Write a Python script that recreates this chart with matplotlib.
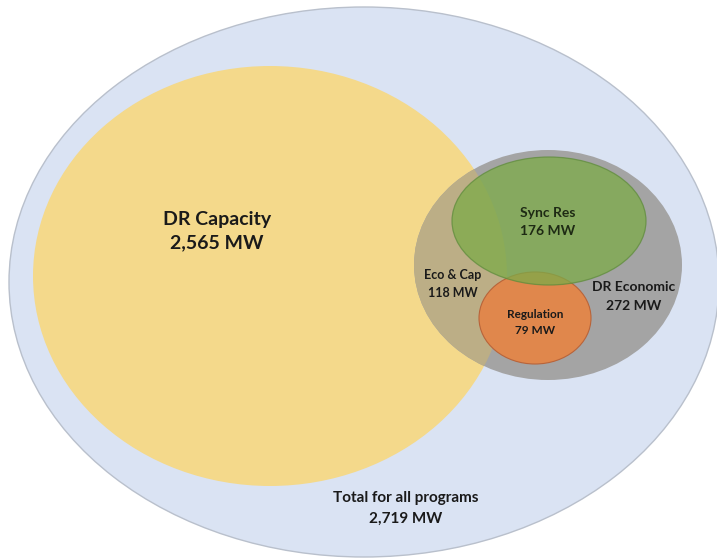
import matplotlib.pyplot as plt
from matplotlib.patches import Ellipse

# Program names and enrolled capacity (MW)
programs = ["Total for all programs", "DR Capacity", "DR Economic", "Sync Res", "Regulation", "Eco & Cap"]
mw_values = [2719, 2565, 272, 176, 79, 118]

# Ellipse layout in pixel space: (cx, cy, width, height)
shapes = {
    "Total for all programs": (364, 282, 710, 550),
    "DR Capacity": (270, 276, 474, 420),
    "DR Economic": (548, 265, 268, 230),
    "Sync Res": (549, 221, 194, 128),
    "Regulation": (535, 318, 112, 92),
}

fig = plt.figure(figsize=(7.17, 5.6), dpi=100)
ax = fig.add_axes([0, 0, 1, 1])
ax.set_xlim(0, 717)
ax.set_ylim(560, 0)
ax.set_aspect("equal")
ax.axis("off")

def ell(name, **kw):
    cx, cy, w, h = shapes[name]
    return ax.add_patch(Ellipse((cx, cy), w, h, **kw))

ell("Total for all programs", facecolor="#dae3f3", edgecolor="#b9c0cc", lw=1.0)
ell("DR Capacity", facecolor="#f4d98b", edgecolor="none")
econ = ell("DR Economic", facecolor="#a4a4a4", edgecolor="none")
# overlap of DR Economic with DR Capacity (Eco & Cap)
overlap = ell("DR Capacity", facecolor="#bcae86", edgecolor="none")
overlap.set_clip_path(econ)
ell("Regulation", facecolor="#e0874c", edgecolor="#b8643a", lw=0.8)
ell("Sync Res", facecolor="#7cab48", edgecolor="#5f8c3c", lw=0.9, alpha=0.75)

font = ["Lato", "DejaVu Sans"]
value = dict(zip(programs, mw_values))

def label(name, x, y, size, color="#1a1a1a", gap=20):
    ax.text(x, y, name, ha="center", va="center", fontsize=size,
            fontweight="bold", family=font, color=color)
    ax.text(x, y + gap, f"{value[name]:,} MW", ha="center", va="center",
            fontsize=size, fontweight="bold", family=font, color=color)

label("DR Capacity", 217, 219, 14, gap=24)
label("Total for all programs", 406, 498, 11, gap=21)
label("Sync Res", 548, 213, 10, color="#1e2a14", gap=18)
label("Eco & Cap", 453, 275, 9, gap=18)
label("DR Economic", 634, 287, 10, gap=19)
label("Regulation", 535, 315, 8.5, gap=16)

fig.savefig("out.png", dpi=100)
